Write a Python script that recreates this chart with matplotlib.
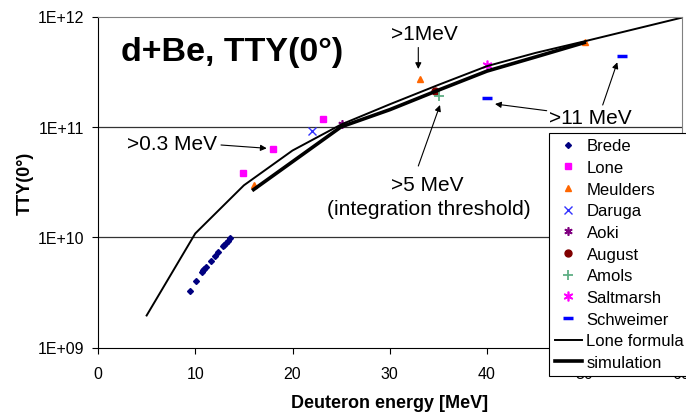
import matplotlib
matplotlib.use("Agg")
import matplotlib.pyplot as plt

plt.rcParams['font.family'] = ['Liberation Sans', 'DejaVu Sans']

# Brede
brede_e = [9.47, 10.12, 10.67, 10.8, 10.91, 11.11, 11.59, 12.04, 12.31, 12.83, 13.0, 13.17, 13.4, 13.58]
brede_y = [3.22e9, 3.97e9, 4.80e9, 5.0e9, 5.14e9, 5.40e9, 6.03e9, 6.69e9, 7.28e9, 8.25e9, 8.5e9, 8.85e9, 9.3e9, 9.75e9]
# Lone
lone_e = [14.9, 18.0, 23.1]
lone_y = [3.8e10, 6.3e10, 1.18e11]
# Meulders
meul_e = [16.0, 33.1, 50.1]
meul_y = [3.0e10, 2.7e11, 5.85e11]
daruga_e, daruga_y = [22.0], [9.1e10]
aoki_e, aoki_y = [25.1], [1.06e11]
august_e, august_y = [34.7], [2.12e11]
amols_e, amols_y = [35.1], [1.91e11]
salt_e, salt_y = [40.0], [3.65e11]
schw_e = [40.0, 53.9]
schw_y = [1.81e11, 4.4e11]
# Lone formula and simulation curves
formula_e = [5, 10, 15, 20, 25, 30, 35, 40, 45, 50, 60]
formula_y = [1.95e9, 1.08e10, 2.95e10, 6.1e10, 1.05e11, 1.6e11, 2.4e11, 3.55e11, 4.68e11, 5.95e11, 9.75e11]
sim_e = [16, 25, 30, 35, 40, 45, 50]
sim_y = [2.7e10, 1.0e11, 1.43e11, 2.15e11, 3.2e11, 4.3e11, 5.8e11]

W, H = 686, 414
fig = plt.figure(figsize=(W / 100, H / 100), dpi=100)


def px(x, y):
    return (x / W, 1 - y / H)


ax = fig.add_axes([98 / W, 1 - 348.5 / H, (681.5 - 98) / W, (348.5 - 17.5) / H])
ax.set_yscale('log')
ax.set_xlim(0, 60)
ax.set_ylim(1e9, 1e12)

for v in [1e10, 1e11]:
    ax.axhline(v, color='#333333', lw=0.9, zorder=1)

ax.plot(brede_e, brede_y, 'D', color='#000080', ms=3, ls='none', label='Brede')
ax.plot(lone_e, lone_y, 's', color='#FF00FF', ms=5, ls='none', label='Lone')
ax.plot(meul_e, meul_y, '^', color='#FF6600', ms=5, ls='none', label='Meulders')
ax.plot(daruga_e, daruga_y, 'x', color='#3333FF', ms=6, mew=1, ls='none', label='Daruga')
ax.plot(aoki_e, aoki_y, marker=(6, 2, 0), color='#800080', ms=6, mew=1.2, ls='none', label='Aoki')
ax.plot(august_e, august_y, 'o', color='#800000', ms=5, ls='none', label='August')
ax.plot(amols_e, amols_y, '+', color='#5FAF85', ms=7, mew=1.3, ls='none', label='Amols')
ax.plot(salt_e, salt_y, marker=(6, 2, 0), color='#FF00FF', ms=7, mew=1.2, ls='none', label='Saltmarsh')
ax.plot(schw_e, schw_y, '_', color='#0000FF', ms=7, mew=2.5, ls='none', label='Schweimer')
ax.plot(formula_e, formula_y, '-', color='black', lw=1.4, label='Lone formula')
ax.plot(sim_e, sim_y, '-', color='black', lw=2.6, label='simulation')

ax.set_xticks(range(0, 61, 10))
ax.set_yticks([1e9, 1e10, 1e11, 1e12])
ax.set_yticklabels(['1E+09', '1E+10', '1E+11', '1E+12'])
ax.minorticks_off()
ax.tick_params(direction='out', length=4, width=0.8, labelsize=11.5)
ax.tick_params(axis='x', pad=9)
ax.tick_params(axis='y', pad=6)

for s in ['top', 'right']:
    ax.spines[s].set_color('#808080')
for s in ['left', 'bottom']:
    ax.spines[s].set_color('black')

ax.set_xlabel('Deuteron energy [MeV]', fontsize=13, fontweight='bold', labelpad=10)
ax.set_ylabel('TTY(0°)', fontsize=13, fontweight='bold', labelpad=3)

leg = ax.legend(loc='upper left', bbox_to_anchor=px(549, 133.5), bbox_transform=fig.transFigure,
                fontsize=12, frameon=True, fancybox=False, edgecolor='black', framealpha=1,
                borderaxespad=0, borderpad=0.35, labelspacing=0.4, handlelength=1.6,
                handletextpad=0.3)
leg.get_frame().set_linewidth(0.8)

fig.text(*px(121, 53), 'd+Be, TTY(0°)', fontsize=24.5, fontweight='bold', ha='left', va='center')

arrow = dict(arrowstyle='-|>', color='black', lw=0.8, mutation_scale=9, shrinkA=0, shrinkB=0)
fig.text(*px(171.7, 145), '>0.3 MeV', fontsize=15, ha='center', va='center')
ax.annotate('', xy=px(266.7, 149.3), xytext=px(221, 146),
            xycoords='figure fraction', textcoords='figure fraction', arrowprops=arrow)
fig.text(*px(424, 35), '>1MeV', fontsize=15, ha='center', va='center')
ax.annotate('', xy=px(418.3, 70), xytext=px(418.3, 48.5),
            xycoords='figure fraction', textcoords='figure fraction', arrowprops=arrow)
fig.text(*px(427.5, 185.7), '>5 MeV', fontsize=15, ha='center', va='center')
fig.text(*px(428.7, 210), '(integration threshold)', fontsize=15, ha='center', va='center')
ax.annotate('', xy=px(440, 106), xytext=px(418.3, 167),
            xycoords='figure fraction', textcoords='figure fraction', arrowprops=arrow)
fig.text(*px(590.5, 118.5), '>11 MeV', fontsize=15, ha='center', va='center')
ax.annotate('', xy=px(495, 105), xytext=px(546.7, 111.7),
            xycoords='figure fraction', textcoords='figure fraction', arrowprops=arrow)
ax.annotate('', xy=px(617.3, 63.3), xytext=px(602.7, 106),
            xycoords='figure fraction', textcoords='figure fraction', arrowprops=arrow)

fig.savefig('out.png', dpi=100)
